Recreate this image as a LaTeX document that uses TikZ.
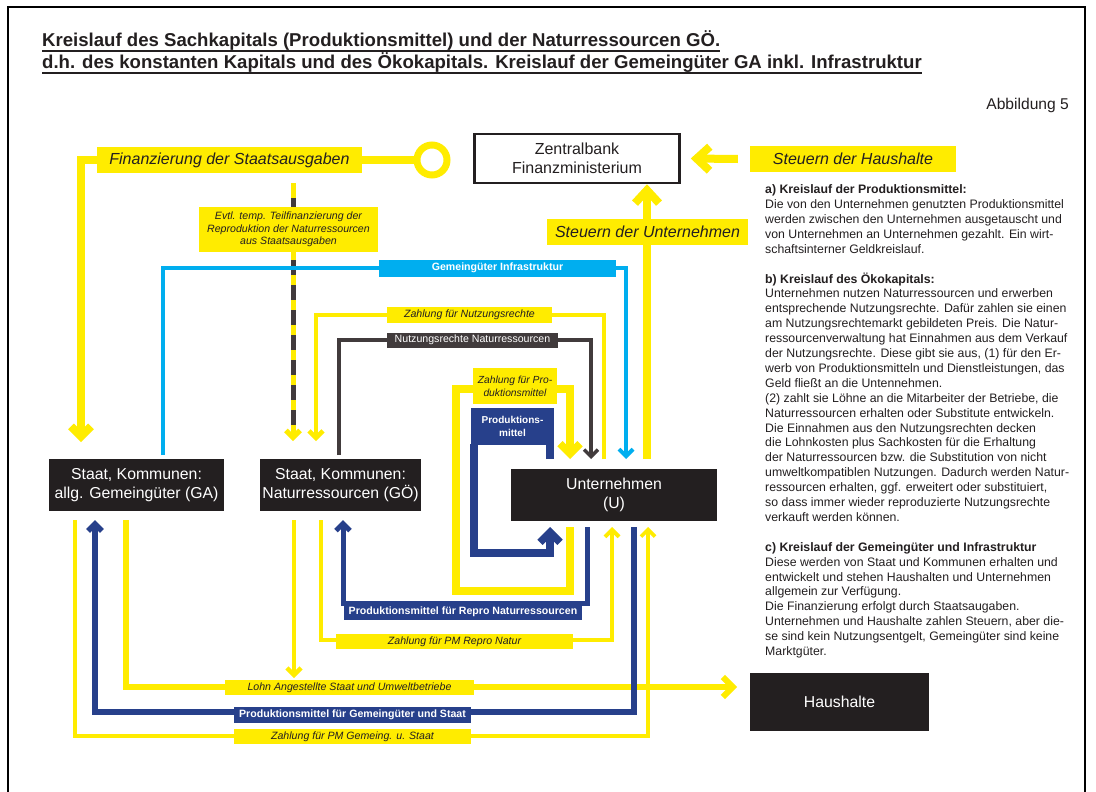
\documentclass[tikz,border=0pt]{standalone}
\usepackage{fontspec}
\setmainfont{Liberation Sans}
\usetikzlibrary{arrows.meta}
\definecolor{yel}{HTML}{FFEC00}
\definecolor{blu}{HTML}{27408B}
\definecolor{cya}{HTML}{00AEEF}
\definecolor{gry}{HTML}{413B3C}
\definecolor{boxc}{HTML}{231F20}
\definecolor{txt}{HTML}{231F20}
\pgfdeclarelayer{bg}
\pgfdeclarelayer{lines}
\pgfsetlayers{bg,lines,main}
\tikzset{
  tipS/.tip={Straight Barb[length=7pt,width=14pt]},
  tipM/.tip={Straight Barb[length=10pt,width=20pt]},
  tipL/.tip={Straight Barb[length=13pt,width=24pt]},
  darkbox/.style={fill=boxc,text=white,inner sep=0pt,align=center,font=\fontsize{15.8}{19}\selectfont},
  biglab/.style={fill=yel,text=txt,inner sep=0pt,font=\itshape\fontsize{16}{19}\selectfont},
  ylab/.style={fill=yel,text=txt,inner sep=0pt,align=center,font=\itshape\fontsize{10.6}{12.5}\selectfont},
  blab/.style={fill=blu,text=white,inner sep=0pt,align=center,font=\bfseries\fontsize{10.6}{13}\selectfont},
  clab/.style={fill=cya,text=white,inner sep=0pt,font=\bfseries\fontsize{10.6}{13}\selectfont},
  glab/.style={fill=gry,text=white,inner sep=0pt,font=\fontsize{10.6}{13}\selectfont},
  yfat/.style={draw=yel,line width=8pt},
  ymid/.style={draw=yel,line width=7.5pt},
  ylohn/.style={draw=yel,line width=6pt},
  ythin/.style={draw=yel,line width=4.5pt},
  ythinner/.style={draw=yel,line width=3.7pt},
  bmid/.style={draw=blu,line width=7.5pt},
  bthin/.style={draw=blu,line width=5pt},
  cline/.style={draw=cya,line width=4pt},
  gline/.style={draw=gry,line width=3.5pt},
  dashline/.style={draw=gry,line width=5pt},
}
\begin{document}
\begin{tikzpicture}[x=1pt,y=-1pt]
\useasboundingbox (0,0) rectangle (1096,792);
\begin{pgfonlayer}{bg}
\fill[white] (0,0) rectangle (1096,792);
\draw[line width=1.3pt,black] (8,792) -- (8,7) -- (1085,7) -- (1085,792);
\end{pgfonlayer}

% title
\node[anchor=base west,inner sep=0pt,text=txt,font=\bfseries\fontsize{18.6}{22}\selectfont] (t1) at (42,47) {Kreislauf des Sachkapitals (Produktionsmittel) und der Naturressourcen GÖ.};
\node[anchor=base west,inner sep=0pt,text=txt,font=\bfseries\fontsize{18.6}{22}\selectfont] (t2) at (42,69) {d.h. des konstanten Kapitals und des Ökokapitals. Kreislauf der Gemeingüter GA inkl. Infrastruktur};
\draw[txt,line width=1.4pt] ([yshift=-4pt]t1.base west) -- ([yshift=-4pt]t1.base east);
\draw[txt,line width=1.4pt] ([yshift=-4pt]t2.base west) -- ([yshift=-4pt]t2.base east);
\node[anchor=base east,inner sep=0pt,text=txt,font=\fontsize{15.6}{18}\selectfont] (abb) at (1069,110) {Abbildung 5};

% main boxes
\node[darkbox,minimum width=175pt,minimum height=52pt] (ga) at (136.5,485) {Staat, Kommunen:\\allg. Gemeingüter (GA)};
\node[darkbox,minimum width=161pt,minimum height=52pt] (go) at (340.5,485) {Staat, Kommunen:\\Naturressourcen (GÖ)};
\node[darkbox,minimum width=206pt,minimum height=52pt] (un) at (614,495) {Unternehmen\\(U)};
\node[darkbox,minimum width=179pt,minimum height=58pt] (hh) at (839.5,702) {Haushalte};
\node[draw=boxc,line width=2.5pt,fill=white,text=txt,inner sep=0pt,minimum width=205pt,minimum height=49pt,align=center,font=\fontsize{16}{19}\selectfont] (zb) at (577,158.5) {Zentralbank\\Finanzministerium};

% labels
\node[biglab,minimum width=265pt,minimum height=26pt] (fin) at (229.5,160) {Finanzierung der Staatsausgaben};
\node[biglab,minimum width=201pt,minimum height=26pt] (sU) at (647.5,232) {Steuern der Unternehmen};
\node[biglab,minimum width=206pt,minimum height=26pt] (sH) at (853,159) {Steuern der Haushalte};
\node[ylab,minimum width=179pt,minimum height=45pt] (ev) at (288.5,229.5) {Evtl. temp. Teilfinanzierung der\\Reproduktion der Naturressourcen\\aus Staatsausgaben};
\node[clab,minimum width=237pt,minimum height=17pt] (gi) at (497.5,268) {Gemeingüter Infrastruktur};
\node[ylab,minimum width=165pt,minimum height=16pt] (zn) at (469.5,315) {Zahlung für Nutzungsrechte};
\node[glab,minimum width=171pt,minimum height=15pt] (nr) at (472.5,340) {Nutzungsrechte Naturressourcen};
\node[ylab,minimum width=84pt,minimum height=36pt,font=\itshape\fontsize{10.3}{13}\selectfont] (zp) at (515,386) {Zahlung für Pro-\\duktionsmittel};
\node[blab,minimum width=83pt,minimum height=37pt,font=\bfseries\fontsize{10}{13}\selectfont] (pm) at (512.5,426.5) {Produktions-\\mittel};
\node[blab,minimum width=238pt,minimum height=15pt] (rp) at (463,612) {Produktionsmittel für Repro Naturressourcen};
\node[ylab,minimum width=237pt,minimum height=15pt] (zr) at (454.5,641.5) {Zahlung für PM Repro Natur};
\node[ylab,minimum width=249pt,minimum height=15pt] (lo) at (349.5,687.5) {Lohn Angestellte Staat und Umweltbetriebe};
\node[blab,minimum width=237pt,minimum height=16pt] (pg) at (352.5,715) {Produktionsmittel für Gemeingüter und Staat};
\node[ylab,minimum width=237pt,minimum height=15pt] (zg) at (352.5,736.5) {Zahlung für PM Gemeing. u. Staat};
\node[circle,draw=yel,line width=7pt,minimum size=30pt,inner sep=0pt] (ring) at (432,160) {};

% connection points
\coordinate (gaT1) at (81,442);
\coordinate (gaT2) at (163,455);
\coordinate (goT0) at (293,183);
\coordinate (goT1) at (293,441);
\coordinate (goT2) at (316,441);
\coordinate (goT3) at (339,455);
\coordinate (unT0) at (550,459);
\coordinate (unT1) at (570,459);
\coordinate (unT2) at (591,459);
\coordinate (unT3) at (604,459);
\coordinate (unT4) at (626,459);
\coordinate (unT5) at (647,459);
\coordinate (pmL) at (474,444);
\coordinate (pmR) at (550,444);
\coordinate (unB0) at (550,527);
\coordinate (unB1) at (570,527);
\coordinate (unB2) at (587,527);
\coordinate (unB3) at (612,527);
\coordinate (unB4) at (634,527);
\coordinate (unB5) at (648,527);
\coordinate (gaB1) at (75,520);
\coordinate (gaB2) at (95,520);
\coordinate (gaB3) at (126,520);
\coordinate (goB1) at (294,520);
\coordinate (goB2) at (321,520);
\coordinate (goB3) at (343,520);
\coordinate (goL) at (294,678);
\coordinate (hhA) at (737,687);

\begin{pgfonlayer}{lines}
% Finanzierung der Staatsausgaben
\draw[yfat] (ring.west) -- (fin.east);
\draw[yfat,-{tipM}] (fin.west) -| (gaT1);
% Steuern
\draw[yfat,-{tipL}] ([xshift=-12pt]sH.west) -- ([xshift=10pt]zb.east);
\draw[yfat,-{tipL}] (unT5) -- (zb.south -| unT5);
% dashed partial financing
\draw[ythin,line width=5pt,-{tipS}] (goT0) -- (goT1);
\draw[dashline] (293,198) -- (293,207);
\draw[dashline,dash pattern=on 15pt off 10pt] (293,260) -- (293,426);
% Gemeingueter Infrastruktur
\draw[cline] (gaT2) |- (gi.west);
\draw[cline,-{tipS}] (gi.east) -| (unT4);
% Nutzungsrechte
\draw[ythin] (unT3) |- (zn.east);
\draw[ythin,-{tipS}] (zn.west) -| (goT2);
\draw[gline] (goT3) |- (nr.west);
\draw[gline,-{tipS}] (nr.east) -| (unT2);
% Produktionsmittel loops
\draw[ymid,-{tipM}] (unB1) -- (570,591) -- (456,591) -- (456,389) -- (570,389) -- (unT1);
\draw[bmid] (unT0) -- (pmR);
\draw[bmid,-{tipM}] (pmL) -- (474,553) -- (550,553) -- (unB0);
% Repro Natur
\draw[bthin,-{tipS}] (unB2) -- (587,603) -| (goB3);
\draw[ythinner,line width=4pt,-{tipS}] (goB2) -- (321,640) -| (unB3);
% Lohn
\draw[ylohn,-{tipM}] (gaB3) |- (hhA);
\draw[ythin,line width=4.3pt,-{tipS}] (goB1) -- (goL);
% Gemeingueter und Staat
\draw[bthin,line width=5.5pt,-{tipS}] (unB4) -- (634,712) -| (gaB2);
\draw[ythinner,-{tipS}] (gaB1) -- (75,736) -| (unB5);
\end{pgfonlayer}

% description text
\node[anchor=north west,inner sep=0pt,align=left,text=txt,font=\fontsize{12.3}{14.9}\selectfont] (desc) at (765,184.5) {%
\textbf{a) Kreislauf der Produktionsmittel:}\\
Die von den Unternehmen genutzten Produktionsmittel\\
werden zwischen den Unternehmen ausgetauscht und\\
von Unternehmen an Unternehmen gezahlt. Ein wirt-\\
schaftsinterner Geldkreislauf.\\[14.9pt]
\textbf{b) Kreislauf des Ökokapitals:}\\
Unternehmen nutzen Naturressourcen und erwerben\\
entsprechende Nutzungsrechte. Dafür zahlen sie einen\\
am Nutzungsrechtemarkt gebildeten Preis. Die Natur-\\
ressourcenverwaltung hat Einnahmen aus dem Verkauf\\
der Nutzungsrechte. Diese gibt sie aus, (1) für den Er-\\
werb von Produktionsmitteln und Dienstleistungen, das\\
Geld fließt an die Untennehmen.\\
(2) zahlt sie Löhne an die Mitarbeiter der Betriebe, die\\
Naturressourcen erhalten oder Substitute entwickeln.\\
Die Einnahmen aus den Nutzungsrechten decken\\
die Lohnkosten plus Sachkosten für die Erhaltung\\
der Naturressourcen bzw. die Substitution von nicht\\
umweltkompatiblen Nutzungen. Dadurch werden Natur-\\
ressourcen erhalten, ggf. erweitert oder substituiert,\\
so dass immer wieder reproduzierte Nutzungsrechte\\
verkauft werden können.\\[14.9pt]
\textbf{c) Kreislauf der Gemeingüter und Infrastruktur}\\
Diese werden von Staat und Kommunen erhalten und\\
entwickelt und stehen Haushalten und Unternehmen\\
allgemein zur Verfügung.\\
Die Finanzierung erfolgt durch Staatsaugaben.\\
Unternehmen und Haushalte zahlen Steuern, aber die-\\
se sind kein Nutzungsentgelt, Gemeingüter sind keine\\
Marktgüter.};
\end{tikzpicture}
\end{document}
